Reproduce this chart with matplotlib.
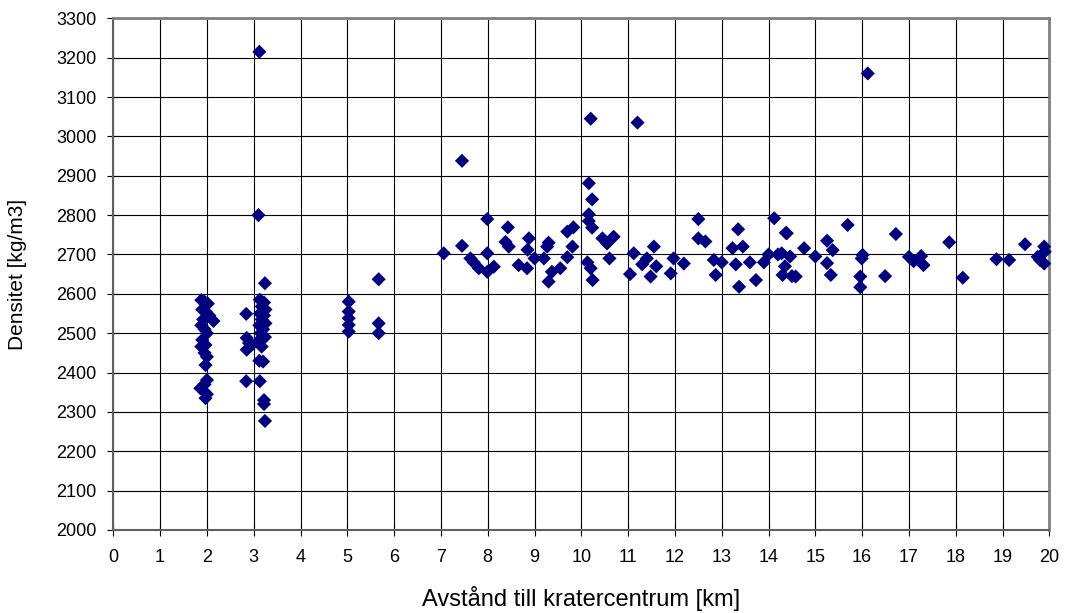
import matplotlib
matplotlib.use("Agg")
import matplotlib.pyplot as plt

# Distance to crater centre [km] and density [kg/m3]
avstand = [
    # ~2 km
    1.88, 1.95, 2.02, 1.90, 1.97, 2.05, 1.92, 2.14, 1.88, 1.95, 2.00,
    1.90, 1.97, 1.88, 1.95, 2.00, 1.97, 2.00, 1.95, 1.86, 2.00, 1.97,
    # ~3 km
    3.12, 3.10, 3.24, 2.84, 3.13, 3.22, 3.17, 3.25, 3.13, 3.22, 3.17,
    3.25, 3.12, 3.20, 3.15, 3.24, 2.85, 2.90, 2.85, 2.95, 3.10, 3.17,
    3.12, 3.20, 2.84, 3.13, 3.22, 3.22, 3.24,
    # ~5 km
    5.03, 5.03, 5.03, 5.03, 5.03, 5.67, 5.67, 5.67,
    # 7 - 11 km
    7.06, 7.45, 7.45, 7.99, 8.43, 7.63, 7.70, 7.81, 7.99, 7.99, 8.13,
    8.38, 8.45, 8.88, 8.85, 8.66, 8.84, 9.00, 9.27, 9.30, 9.20, 9.30,
    9.37, 9.55, 9.70, 9.81, 9.70, 9.83, 10.16, 10.23, 10.16, 10.16,
    10.23, 10.13, 10.20, 10.24, 10.45, 10.55, 10.69, 10.60, 10.20, 11.20,
    # 11 - 15 km
    11.12, 11.04, 11.55, 11.40, 11.30, 11.48, 11.60, 11.91, 11.97, 12.19,
    12.50, 12.50, 12.65, 12.83, 12.87, 13.00, 13.23, 13.35, 13.45, 13.30,
    13.37, 13.60, 13.73, 14.00, 14.12, 14.37, 14.28, 14.30, 14.46, 14.50,
    13.90,
    # 15 - 20 km
    14.39, 14.20, 14.76, 15.00, 14.58, 14.35, 15.69, 15.25, 15.37, 15.25,
    15.33, 16.01, 15.99, 15.96, 15.96, 16.12, 16.72, 16.49, 17.00, 17.10,
    17.26, 17.31, 17.86, 18.15, 18.87, 19.14, 19.48, 19.89, 19.75, 19.90,
    19.89, 19.80,
]

densitet = [
    2584, 2580, 2575, 2560, 2555, 2545, 2535, 2531, 2520, 2510, 2500,
    2483, 2470, 2466, 2450, 2440, 2419, 2381, 2370, 2360, 2345, 2335,
    3215, 2800, 2627, 2549, 2585, 2578, 2568, 2560, 2550, 2545, 2535,
    2525, 2520, 2510, 2500, 2490, 2488, 2475, 2458, 2470, 2480, 2466,
    2430, 2428, 2378, 2378, 2330, 2320, 2277,
    2580, 2555, 2538, 2521, 2504, 2637, 2525, 2500,
    2703, 2938, 2722, 2790, 2769, 2690, 2680, 2665, 2703, 2656, 2669,
    2732, 2720, 2741, 2712, 2673, 2665, 2690, 2720, 2730, 2690, 2631,
    2656, 2665, 2693, 2720, 2758, 2769, 2881, 2840, 2802, 2785,
    2768, 2680, 2665, 2635, 2741, 2728, 2745, 2690, 3045, 3035,
    2703, 2650, 2720, 2690, 2675, 2644, 2670, 2652, 2690, 2677,
    2790, 2741, 2733, 2686, 2648, 2680, 2716, 2764, 2720, 2675,
    2618, 2680, 2635, 2700, 2792, 2755, 2703, 2648, 2695, 2645,
    2680,
    2754, 2700, 2716, 2695, 2644, 2670, 2775, 2735, 2711, 2678,
    2648, 2699, 2690, 2644, 2617, 3160, 2752, 2645, 2694, 2683,
    2696, 2673, 2731, 2641, 2688, 2686, 2726, 2720, 2694, 2707,
    2677, 2686,
]

x_ticks = list(range(0, 21))
y_ticks = list(range(2000, 3301, 100))

plt.rcParams['font.family'] = ['Liberation Sans', 'DejaVu Sans']

fig = plt.figure(figsize=(10.66, 6.13), dpi=100)
ax = fig.add_axes([0.1063, 0.1354, 0.8781, 0.8347])

ax.scatter(avstand, densitet, marker='D', s=52, color='#000080',
           edgecolors='none', zorder=3, clip_on=False)

ax.set_xlim(0, 20)
ax.set_ylim(2000, 3300)
ax.set_xticks(x_ticks)
ax.set_yticks(y_ticks)
ax.grid(True, color='black', linewidth=0.8)
ax.set_axisbelow(True)

for side in ['top', 'right']:
    ax.spines[side].set_color('#808080')
    ax.spines[side].set_linewidth(2)
for side in ['left', 'bottom']:
    ax.spines[side].set_color('#606060')
    ax.spines[side].set_linewidth(1.5)

ax.tick_params(direction='inout', length=8, width=0.8, color='black',
               labelsize=13)
ax.tick_params(axis='x', pad=10)
ax.tick_params(axis='y', pad=8)

ax.set_xlabel('Avstånd till kratercentrum [km]', fontsize=17)
ax.set_ylabel('Densitet [kg/m3]', fontsize=15)
ax.xaxis.set_label_coords(0.5, -0.11)
ax.yaxis.set_label_coords(-0.092, 0.5)

fig.savefig('out.png', dpi=100)
